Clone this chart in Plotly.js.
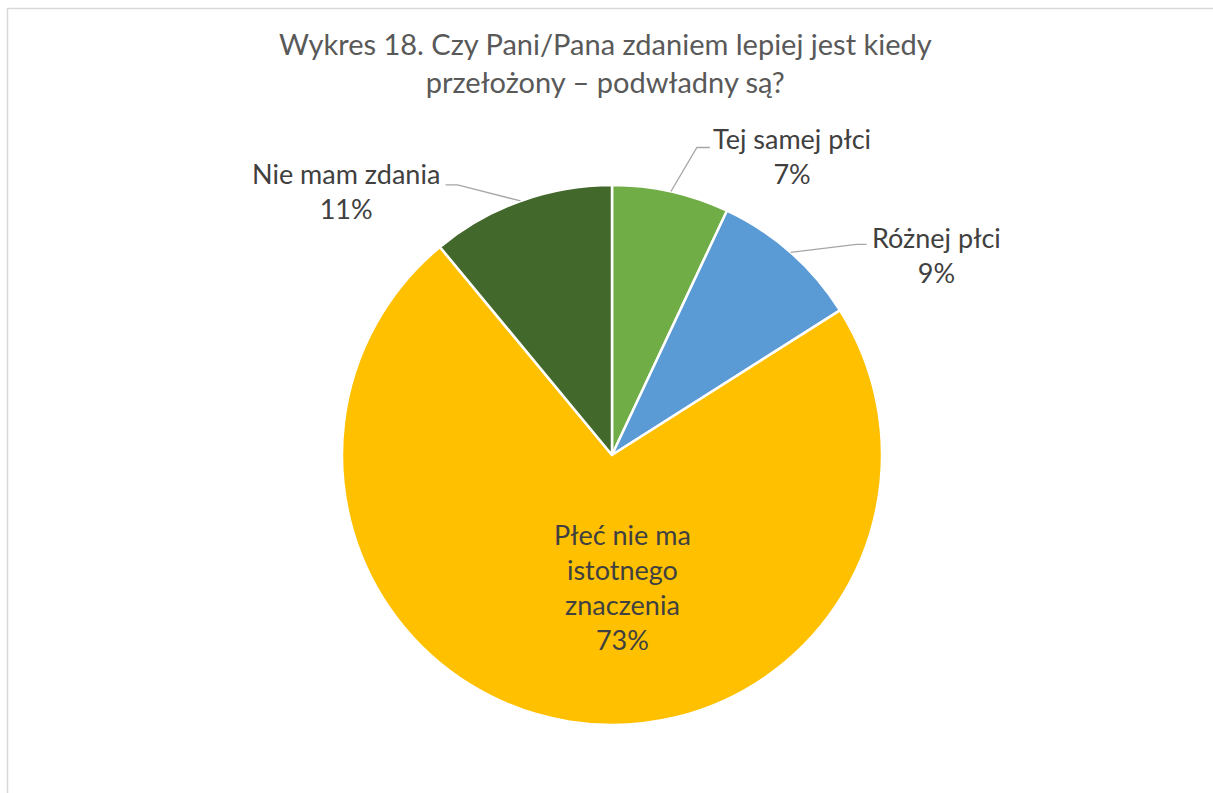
<!DOCTYPE html>
<html>
<head>
<meta charset="utf-8">
<script src="https://cdn.plot.ly/plotly-3.0.1.min.js"></script>
<style>
html,body{margin:0;padding:0;background:#fff;overflow:hidden;}
#chart{width:1213px;height:793px;}
</style>
</head>
<body>
<div id="chart"></div>
<script>
// ---- data ----
var categories = ["Tej samej płci", "Różnej płci", "Płeć nie ma istotnego znaczenia", "Nie mam zdania"];
var labelTexts = ["Tej samej płci", "Różnej płci", "Płeć nie ma<br>istotnego<br>znaczenia", "Nie mam zdania"];
var values = [7, 9, 73, 11];
var colors = ["#70AD47", "#5B9BD5", "#FFC000", "#43682B"];
var titleText = "Wykres 18. Czy Pani/Pana zdaniem lepiej jest kiedy<br>przełożony – podwładny są?";

// ---- layout geometry (pixels) ----
var W = 1213, H = 793;
var CX = 612, CY = 455, R = 270;
var FONT = "Lato, 'Open Sans', sans-serif";
var TITLE_COLOR = "#595959";
var LABEL_COLOR = "#404040";

// label placement relative to slice-edge point (pixels)
var placement = [
  {elbow:[26,-44], end:13, text:[121,-36], outside:true},
  {elbow:[66,-8], end:10, text:[146,3], outside:true},
  {inside:[10,132]},
  {elbow:[-63,-16], end:-12, text:[-175,-10], outside:true}
];

var total = values.reduce(function(a,b){return a+b;},0);
function px2x(px){return px / W;}
function py2y(py){return 1 - py / H;}

var shapes = [{
  type:"rect", xref:"paper", yref:"paper",
  x0: px2x(7.5), x1: 1.05, y0: -0.05, y1: py2y(8.5),
  line:{color:"#D9D9D9", width:1.5}, fillcolor:"rgba(0,0,0,0)"
}];
var annotations = [];
var cum = 0;
for (var i = 0; i < values.length; i++) {
  var mid = (cum + values[i] / 2) / total * 2 * Math.PI;
  cum += values[i];
  var pct = Math.round(values[i] / total * 100) + "%";
  var txt = labelTexts[i] + "<br>" + pct;
  var pl = placement[i];
  if (pl.outside) {
    var px = CX + R * Math.sin(mid), py = CY - R * Math.cos(mid);
    var ex = px + pl.elbow[0], ey = py + pl.elbow[1];
    var fx = ex + pl.end;
    shapes.push({
      type:"path", xref:"paper", yref:"paper",
      path:"M " + px2x(px) + " " + py2y(py) + " L " + px2x(ex) + " " + py2y(ey) + " L " + px2x(fx) + " " + py2y(ey),
      line:{color:"#A6A6A6", width:1.3}
    });
    annotations.push({
      xref:"paper", yref:"paper", x: px2x(px + pl.text[0]), y: py2y(py + pl.text[1]),
      xanchor:"center", yanchor:"middle", showarrow:false, text: txt,
      font:{family:FONT, size:27, color:LABEL_COLOR}
    });
  } else {
    annotations.push({
      xref:"paper", yref:"paper", x: px2x(CX + pl.inside[0]), y: py2y(CY + pl.inside[1]),
      xanchor:"center", yanchor:"middle", showarrow:false, text: txt,
      font:{family:FONT, size:27, color:LABEL_COLOR}
    });
  }
}

var trace = {
  type:"pie",
  labels: categories,
  values: values,
  sort:false,
  direction:"clockwise",
  rotation:0,
  textinfo:"none",
  hoverinfo:"label+percent",
  marker:{colors: colors, line:{color:"#FFFFFF", width:2.5}},
  domain:{x:[px2x(CX-R), px2x(CX+R)], y:[py2y(CY+R), py2y(CY-R)]},
  showlegend:false
};

var layout = {
  width: W, height: H,
  margin:{l:0, r:0, t:0, b:0},
  paper_bgcolor:"#FFFFFF",
  plot_bgcolor:"#FFFFFF",
  title:{text:titleText, x:0.499, xanchor:"center", y: py2y(55), yanchor:"middle",
         font:{family:FONT, size:29, color:TITLE_COLOR}},
  shapes: shapes,
  annotations: annotations,
  showlegend:false
};

Plotly.newPlot("chart", [trace], layout, {displayModeBar:false, staticPlot:true});
</script>
</body>
</html>
